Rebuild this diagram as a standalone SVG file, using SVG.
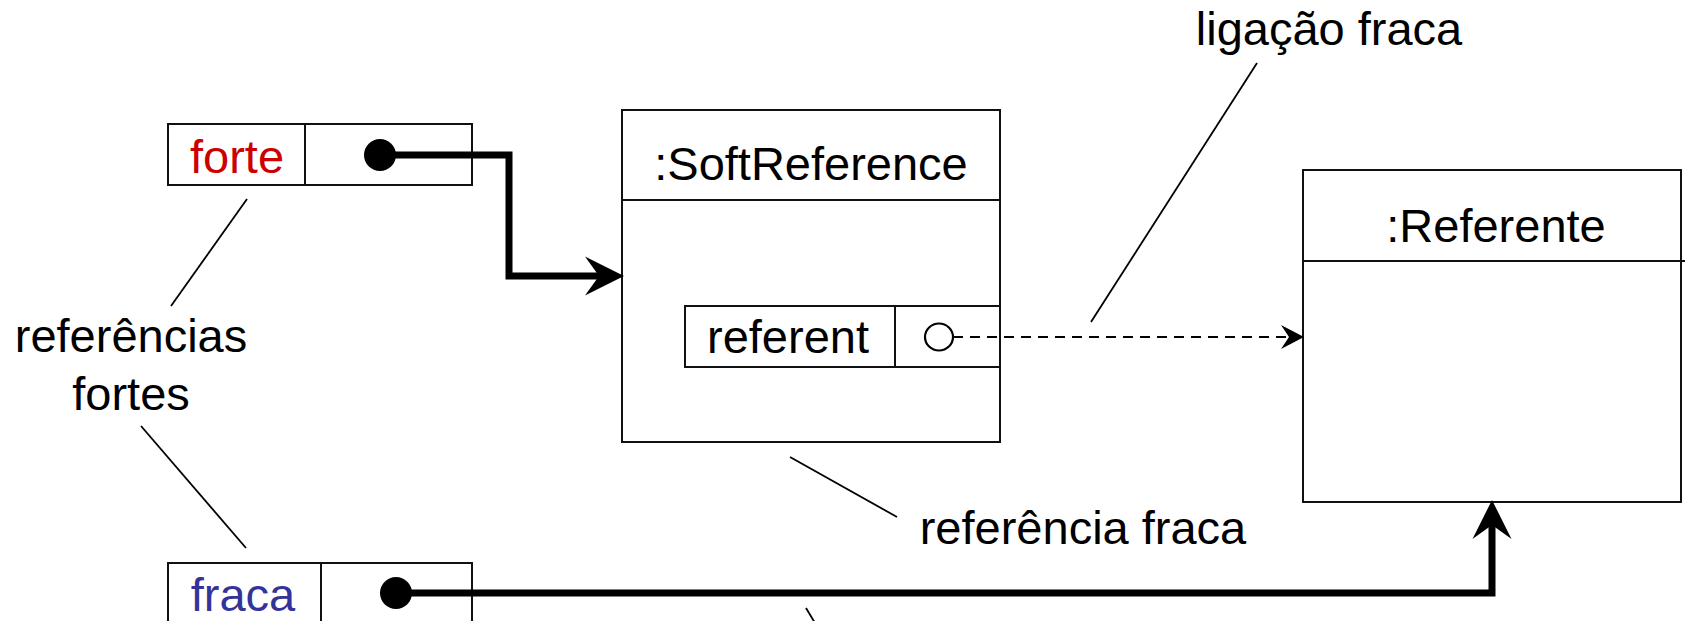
<svg xmlns="http://www.w3.org/2000/svg" width="1688" height="621" viewBox="0 0 1688 621">
<style>
.box{fill:#fff;stroke:#111;stroke-width:2}
.sep{stroke:#111;stroke-width:2;fill:none}
.t{font-family:"Liberation Sans",Arial,sans-serif;font-size:47px;fill:#000;text-anchor:middle}
.lead{stroke:#000;stroke-width:1.8;fill:none}
.strong{stroke:#000;stroke-width:7;fill:none}
.weak{stroke:#000;stroke-width:2;fill:none;stroke-dasharray:10 7}
</style>
<defs>
<marker id="thick" markerUnits="userSpaceOnUse" viewBox="-16 -21 42 42" markerWidth="42" markerHeight="42" refX="0" refY="0" orient="auto" overflow="visible">
<path d="M25,0 L-14,-19.5 L0,0 L-14,19.5 Z" fill="#000"/>
</marker>
<marker id="thin" markerUnits="userSpaceOnUse" viewBox="-10 -13 27 26" markerWidth="27" markerHeight="26" refX="0" refY="0" orient="auto" overflow="visible">
<path d="M15,0 L-8,-12 L0,0 L-8,12 Z" fill="#000"/>
</marker>
</defs>
<rect width="1688" height="621" fill="#fff"/>

<g id="node-forte">
<rect class="box" x="168" y="124" width="304" height="61"/>
<line class="sep" x1="305" y1="124" x2="305" y2="185"/>
<text class="t" x="237" y="173" style="fill:#cc0000">forte</text>
<circle cx="380" cy="155" r="16" fill="#000"/>
</g>

<g id="node-fraca">
<rect class="box" x="168" y="563" width="304" height="61"/>
<line class="sep" x1="321" y1="563" x2="321" y2="624"/>
<text class="t" x="243" y="611" style="fill:#333399">fraca</text>
<circle cx="396" cy="593" r="16" fill="#000"/>
</g>

<g id="node-softreference">
<rect class="box" x="622" y="110" width="378" height="332"/>
<line class="sep" x1="622" y1="200" x2="1000" y2="200"/>
<text class="t" x="811" y="180">:SoftReference</text>
<g id="node-referent">
<rect class="box" x="685" y="306" width="315" height="61"/>
<line class="sep" x1="895" y1="306" x2="895" y2="367"/>
<text class="t" x="788" y="353">referent</text>
<ellipse cx="939" cy="337" rx="14" ry="13.5" fill="#fff" stroke="#000" stroke-width="2.2"/>
</g>
</g>

<g id="node-referente">
<rect class="box" x="1303" y="170" width="378" height="332"/>
<line class="sep" x1="1303" y1="261" x2="1685" y2="261"/>
<text class="t" x="1496" y="242">:Referente</text>
</g>

<g id="labels">
<text class="t" x="131" y="352">referências</text>
<text class="t" x="131" y="410">fortes</text>
<text class="t" x="1083" y="544">referência fraca</text>
<text class="t" x="1329" y="45">ligação fraca</text>
</g>

<g id="connectors">
<path class="strong" d="M380,155 H509 V276 H599" marker-end="url(#thick)"/>
<path class="strong" d="M396,593 H1492 V525" marker-end="url(#thick)"/>
<path class="weak" d="M953,337 H1289" marker-end="url(#thin)"/>
<line class="lead" x1="247" y1="199" x2="171" y2="306"/>
<line class="lead" x1="141" y1="426" x2="246" y2="548"/>
<line class="lead" x1="790" y1="457" x2="897" y2="517"/>
<line class="lead" x1="1257" y1="63" x2="1091" y2="322"/>
<line class="lead" x1="806" y1="608" x2="815" y2="623"/>
</g>
</svg>
